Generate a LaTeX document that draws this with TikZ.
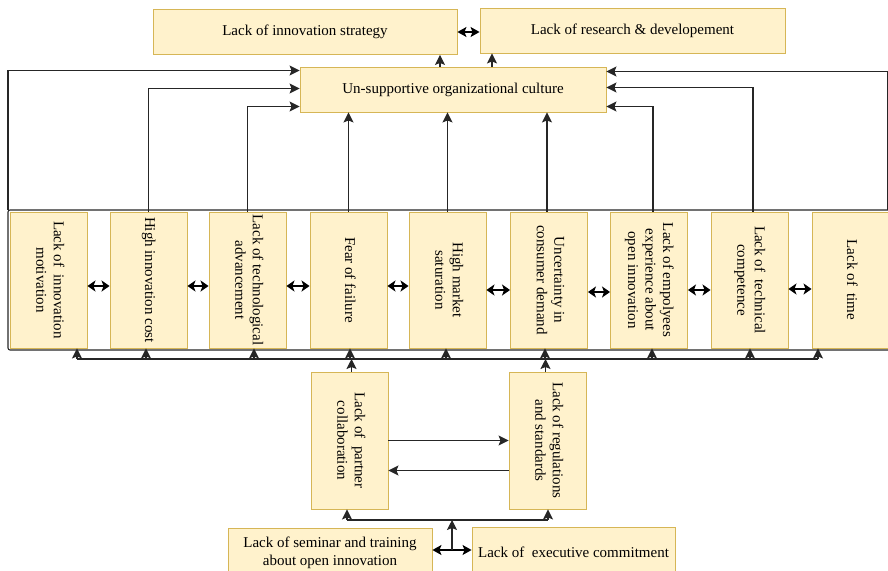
\documentclass[tikz,border=0pt]{standalone}
\usepackage{fontspec}
\setmainfont{Liberation Serif}
\usetikzlibrary{arrows.meta,calc}
\definecolor{boxfill}{HTML}{FFF2CC}
\definecolor{boxline}{HTML}{D6B656}
\newcommand{\mvtext}[1]{\rotatebox{-90}{\begin{tabular}{@{}c@{}}#1\end{tabular}}}
\begin{document}
\begin{tikzpicture}[x=1pt,y=-1pt,
  box/.style={draw=boxline, fill=boxfill, line width=0.9pt, inner sep=0pt,
    align=center, font=\fontsize{15}{17.5}\selectfont},
  hbox/.style={box},
  vbox/.style={box, minimum width=77, minimum height=136},
  conn/.style={line width=1.1pt, black!85},
  arr/.style={conn, -{Stealth[length=10pt,width=10pt,inset=2pt]}},
  darr/.style={line width=1.8pt, {Stealth[length=8pt,width=11pt,inset=2pt]}-{Stealth[length=8pt,width=11pt,inset=2pt]}},
  tarr/.style={line width=1.2pt, {Stealth[length=9pt,width=10pt,inset=2pt]}-{Stealth[length=9pt,width=10pt,inset=2pt]}}
]
\useasboundingbox (0,0) rectangle (888,570);

% frame around the row of barriers
\coordinate (fl) at (8,210);
\coordinate (fr) at (888,210);
\draw[conn, rounded corners=2pt] (fl) rectangle (896,350);

% top boxes
\node[hbox, minimum width=304, minimum height=45] (strat) at (305,32) {Lack of innovation strategy};
\node[hbox, minimum width=305, minimum height=45] (rd) at (632.5,30.5) {Lack of research \& developement};
\node[hbox, minimum width=306, minimum height=45] (cult) at (453,89.5) {Un-supportive organizational culture};

% row of barriers
\node[vbox] (b1) at (48.5,280) {\mvtext{Lack of~ innovation\\motivation}};
\node[vbox] (b2) at (148.5,280) {\mvtext{High innovation cost}};
\node[vbox] (b3) at (247.5,280) {\mvtext{Lack of technological\\advancement}};
\node[vbox] (b4) at (348.5,280) {\mvtext{Fear of failure}};
\node[vbox] (b5) at (447.5,280) {\mvtext{High market\\saturation}};
\node[vbox] (b6) at (549,280) {\mvtext{Uncertainty in\\consumer demand}};
\node[vbox] (b7) at (649,280) {\mvtext{Lack of empolyees\\experience about\\open innovation}};
\node[vbox] (b8) at (749.5,280) {\mvtext{Lack of~ technical\\competence}};
\node[vbox] (b9) at (850.5,280) {\mvtext{Lack of~ time}};

% lower boxes
\node[vbox, minimum height=137] (pc) at (349.5,440.5) {\mvtext{Lack of~ partner\\collaboration}};
\node[vbox, minimum height=137] (rs) at (547.5,440.5) {\mvtext{Lack of regulations\\and standards}};
\node[hbox, minimum width=204, minimum height=50] (sem) at (330,553) {Lack of seminar and training\\about open innovation};
\node[hbox, minimum width=203, minimum height=50] (ec) at (573.5,552.5) {Lack of~ executive commitment};

% top connections
\coordinate (u1) at (440,0);
\coordinate (u2) at (492,0);
\draw[arr] (cult.north -| u1) -- (strat.south -| u1);
\draw[arr] (cult.north -| u2) -- (rd.south -| u2);
\draw[tarr] (strat.east) -- (strat.east -| rd.west);

% barriers to culture
\draw[arr] (fl) |- ($(cult.west)+(0,-19)$);
\draw[arr] (b2.north) |- ($(cult.west)+(0,-1)$);
\draw[arr] (b3.north) |- ($(cult.west)+(0,17)$);
\draw[arr] (b4.north) -- (b4.north |- cult.south);
\draw[arr] (b5.north) -- (b5.north |- cult.south);
\coordinate (t6) at ($(b6.north)+(-2,0)$);
\draw[arr] (t6) -- (t6 |- cult.south);
\coordinate (t7) at ($(b7.north)+(4,0)$);
\draw[arr] (t7) |- ($(cult.east)+(0,17)$);
\coordinate (t8) at ($(b8.north)+(3.5,0)$);
\draw[arr] (t8) |- ($(cult.east)+(0,-2)$);
\draw[arr] (fr) |- ($(cult.east)+(0,-18)$);

% links between barriers
\draw[darr] ($(b1.east)+(0,6)$) -- ($(b2.west)+(0,6)$);
\draw[darr] ($(b2.east)+(0,6)$) -- ($(b3.west)+(0,6)$);
\draw[darr] ($(b3.east)+(0,6)$) -- ($(b4.west)+(0,6)$);
\draw[darr] ($(b4.east)+(0,6)$) -- ($(b5.west)+(0,6)$);
\draw[darr] ($(b5.east)+(0,10)$) -- ($(b6.west)+(0,10)$);
\draw[darr] ($(b6.east)+(0,12)$) -- ($(b7.west)+(0,12)$);
\draw[darr] ($(b7.east)+(0,10)$) -- ($(b8.west)+(0,10)$);
\draw[darr] ($(b8.east)+(0,9)$) -- ($(b9.west)+(0,9)$);

% bus under the row
\coordinate (busL) at (77,359);
\coordinate (busR) at (818,359);
\draw[conn] (busL) -- (busR);
\foreach \n/\d in {b1/28.5, b2/-2.5, b3/6.5, b4/1.5, b5/-1.5, b6/-4, b7/3, b8/0.5, b9/-32.5}{
  \coordinate (s) at ($(\n.south)+(\d,0)$);
  \draw[arr] (s |- busL) -- (s);
}
\coordinate (p1) at ($(pc.north)+(2,0)$);
\draw[arr] (p1) -- (p1 |- busL);
\coordinate (p2) at ($(rs.north)+(-2,0)$);
\draw[arr] (p2) -- (p2 |- busL);

% partner <-> regulations
\draw[arr] (pc.east) -- (rs.west);
\draw[arr] ($(rs.west)+(0,30)$) -- ($(pc.east)+(0,30)$);

% bottom bus
\coordinate (bus2L) at (347,520);
\coordinate (bus2R) at (548,520);
\draw[conn] (bus2L) -- (bus2R);
\draw[arr] (bus2L) -- (bus2L |- pc.south);
\draw[arr] (bus2R) -- (bus2R |- rs.south);
\coordinate (sx) at ($(sem.east)+(0,-3)$);
\draw[tarr] (sx) -- (sx -| ec.west);
\coordinate (mid) at ($(sx)!0.5!(sx -| ec.west)$);
\draw[arr] (mid) -- (mid |- bus2L);
\end{tikzpicture}
\end{document}
